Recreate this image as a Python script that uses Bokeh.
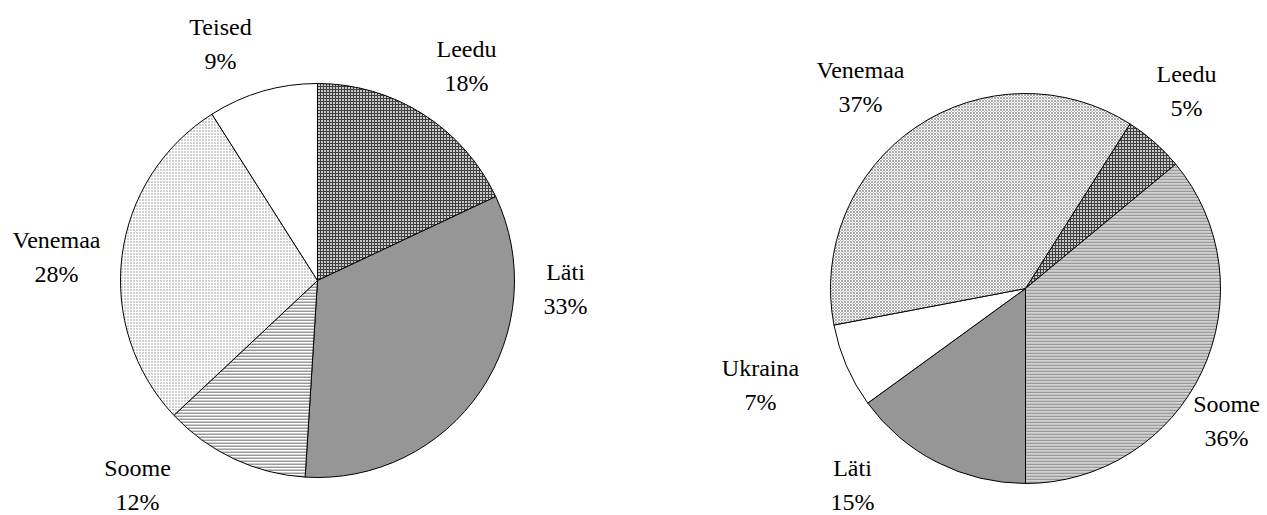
import math
from bokeh.plotting import figure
from bokeh.models import Range1d
from bokeh.core.properties import value
from bokeh.embed import file_html
from bokeh.resources import INLINE

# ---------------- data ----------------
left_names = ["Leedu", "Läti", "Soome", "Venemaa", "Teised"]
left_values = [18, 33, 12, 28, 9]

right_names = ["Leedu", "Soome", "Läti", "Ukraina", "Venemaa"]
right_values = [5, 36, 15, 7, 37]

# ---------------- layout / style ----------------
W, H = 1267, 515
FONT = "'Liberation Serif', 'Times New Roman', serif"
FS = "24px"
LINE_GAP = 17

left_center = (317, 280)
left_radius = 197
left_start_deg = 0.0
left_label_offsets = [(149, -214.5), (248, 8.5), (-180, 204), (-261, -23.5), (-97, -236.5)]

right_center = (1025, 288)
right_radius = 195
right_start_deg = 32.4
right_label_offsets = [(161, -197.5), (201, 132), (-173, 196), (-265, 96.5), (-165, -202)]

styles = {
    "Leedu": dict(fill_color="#c8c8c8", hatch_pattern="+", hatch_color="#404040", hatch_scale=3, hatch_weight=1),
    "Läti": dict(fill_color="#969696"),
    "Soome_L": dict(fill_color="#ffffff", hatch_pattern="-", hatch_color="#999999", hatch_scale=3, hatch_weight=2),
    "Soome_R": dict(fill_color="#d2d2d2", hatch_pattern="-", hatch_color="#9a9a9a", hatch_scale=3, hatch_weight=1.5),
    "Venemaa_L": dict(fill_color="#ffffff", hatch_pattern=".", hatch_color="#8a8a8a", hatch_scale=3, hatch_weight=1.2),
    "Venemaa_R": dict(fill_color="#ffffff", hatch_pattern="x", hatch_color="#aaaaaa", hatch_scale=3, hatch_weight=1),
    "Teised": dict(fill_color="#ffffff"),
    "Ukraina": dict(fill_color="#ffffff"),
}

p = figure(width=W, height=H, output_backend="svg", toolbar_location=None,
           x_range=Range1d(0, W), y_range=Range1d(0, H),
           min_border=0, match_aspect=False)
p.axis.visible = False
p.grid.visible = False
p.outline_line_color = None
p.background_fill_color = "white"
p.border_fill_color = "white"


def draw_pie(names, values, center, radius, start_deg, offsets, side):
    cx, cy_page = center
    cy = H - cy_page
    total = float(sum(values))
    cum = start_deg / 360.0
    for name, v, (dx, dy) in zip(names, values, offsets):
        a0 = cum
        a1 = cum + v / total
        cum = a1
        key = name if name in styles else f"{name}_{side}"
        st = styles[key]
        p.wedge(x=[cx], y=[cy], radius=radius,
                start_angle=[math.pi / 2 - 2 * math.pi * a0],
                end_angle=[math.pi / 2 - 2 * math.pi * a1],
                direction="clock", line_color="black", line_width=1, **st)
        lx = cx + dx
        ly = cy - dy
        p.text(x=[lx], y=[ly + LINE_GAP], text=[name], text_font=value(FONT),
               text_font_size=FS, text_align="center", text_baseline="middle", text_color="black")
        p.text(x=[lx], y=[ly - LINE_GAP], text=[f"{v}%"], text_font=value(FONT),
               text_font_size=FS, text_align="center", text_baseline="middle", text_color="black")


draw_pie(left_names, left_values, left_center, left_radius, left_start_deg, left_label_offsets, "L")
draw_pie(right_names, right_values, right_center, right_radius, right_start_deg, right_label_offsets, "R")

open("out.html", "w").write(file_html(p, INLINE))
